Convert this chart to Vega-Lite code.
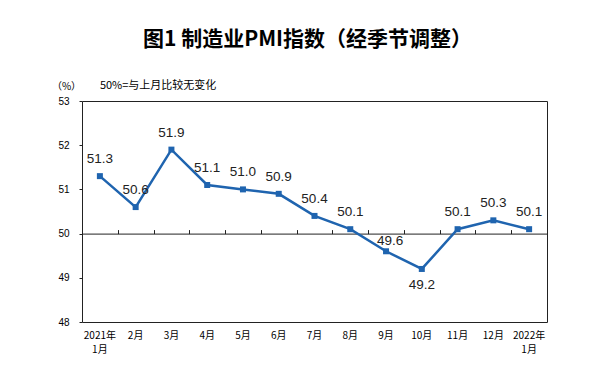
{
  "$schema": "https://vega.github.io/schema/vega-lite/v6.json",
  "width": 465,
  "height": 221,
  "autosize": {"type": "none"},
  "padding": {"left": 82, "top": 101, "right": 63, "bottom": 51},
  "background": "white",
  "title": {
    "text": "图1 制造业PMI指数（经季节调整）",
    "font": "Noto Sans CJK SC",
    "fontSize": 21,
    "fontWeight": "bold",
    "color": "#000",
    "anchor": "middle",
    "dx": -7,
    "offset": 30
  },
  "config": {"view": {"stroke": "#222", "strokeWidth": 1}},
  "data": {
    "values": [
      {"month": "2021年|1月", "pmi": 51.3},
      {"month": "2月", "pmi": 50.6},
      {"month": "3月", "pmi": 51.9},
      {"month": "4月", "pmi": 51.1},
      {"month": "5月", "pmi": 51.0},
      {"month": "6月", "pmi": 50.9},
      {"month": "7月", "pmi": 50.4},
      {"month": "8月", "pmi": 50.1},
      {"month": "9月", "pmi": 49.6},
      {"month": "10月", "pmi": 49.2},
      {"month": "11月", "pmi": 50.1},
      {"month": "12月", "pmi": 50.3},
      {"month": "2022年|1月", "pmi": 50.1}
    ]
  },
  "resolve": {"axis": {"x": "independent"}},
  "layer": [
    {
      "mark": {
        "type": "line",
        "color": "#1F64AF",
        "strokeWidth": 2.5,
        "point": {"shape": "square", "size": 36, "filled": true, "color": "#1F64AF", "opacity": 1}
      },
      "encoding": {
        "x": {
          "field": "month",
          "type": "ordinal",
          "sort": null,
          "bandPosition": 0.5,
          "scale": {"type": "band", "paddingInner": 0, "paddingOuter": 0},
          "axis": {
            "orient": "bottom",
            "title": null,
            "domain": false,
            "ticks": false,
            "labelAngle": 0,
            "labelExpr": "split(datum.label, '|')",
            "labelFont": "Noto Sans CJK SC",
            "labelFontSize": 10,
            "labelColor": "#000",
            "labelPadding": 8,
            "labelLineHeight": 14
          }
        },
        "y": {
          "field": "pmi",
          "type": "quantitative",
          "scale": {"domain": [48, 53], "zero": false, "nice": false},
          "axis": {
            "values": [48, 49, 50, 51, 52, 53],
            "grid": false,
            "domain": false,
            "tickSize": 3,
            "tickColor": "#222",
            "labelFont": "Liberation Sans",
            "labelFontSize": 10,
            "labelColor": "#000",
            "labelPadding": 10,
            "title": "（%）",
            "titleAngle": 0,
            "titleX": -16,
            "titleY": -15,
            "titleAlign": "center",
            "titleBaseline": "middle",
            "titleFont": "Noto Sans CJK SC",
            "titleFontSize": 10,
            "titleFontWeight": "normal",
            "titleColor": "#000"
          }
        }
      }
    },
    {
      "transform": [{"filter": "datum.pmi > 49.65"}],
      "mark": {"type": "text", "font": "Liberation Sans", "fontSize": 13.5, "color": "#222", "dy": -17},
      "encoding": {
        "x": {
          "field": "month",
          "type": "ordinal",
          "sort": null,
          "bandPosition": 0.5,
          "axis": {
            "orient": "top",
            "offset": -132.6,
            "title": null,
            "labels": false,
            "domain": true,
            "domainColor": "#222",
            "domainWidth": 1,
            "ticks": true,
            "tickBand": "extent",
            "tickSize": 4,
            "tickColor": "#222",
            "grid": false
          }
        },
        "y": {"field": "pmi", "type": "quantitative"},
        "text": {"field": "pmi", "type": "quantitative", "format": ".1f"}
      }
    },
    {
      "transform": [{"filter": "datum.month == '9月'"}],
      "mark": {"type": "text", "font": "Liberation Sans", "fontSize": 13.5, "color": "#222", "dy": -10, "dx": 4},
      "encoding": {
        "x": {"field": "month", "type": "ordinal", "sort": null, "bandPosition": 0.5, "axis": null},
        "y": {"field": "pmi", "type": "quantitative"},
        "text": {"field": "pmi", "type": "quantitative", "format": ".1f"}
      }
    },
    {
      "transform": [{"filter": "datum.month == '10月'"}],
      "mark": {"type": "text", "font": "Liberation Sans", "fontSize": 13.5, "color": "#222", "dy": 16},
      "encoding": {
        "x": {"field": "month", "type": "ordinal", "sort": null, "bandPosition": 0.5, "axis": null},
        "y": {"field": "pmi", "type": "quantitative"},
        "text": {"field": "pmi", "type": "quantitative", "format": ".1f"}
      }
    },
    {
      "data": {"values": [{"note": "50%=与上月比较无变化"}]},
      "mark": {"type": "text", "align": "left", "baseline": "middle", "font": "Noto Sans CJK SC", "fontSize": 11, "color": "#000", "dy": -15},
      "encoding": {
        "x": {"datum": "2021年|1月", "type": "ordinal", "bandPosition": 0.5, "axis": null},
        "y": {"datum": 53, "type": "quantitative"},
        "text": {"field": "note"}
      }
    }
  ]
}
